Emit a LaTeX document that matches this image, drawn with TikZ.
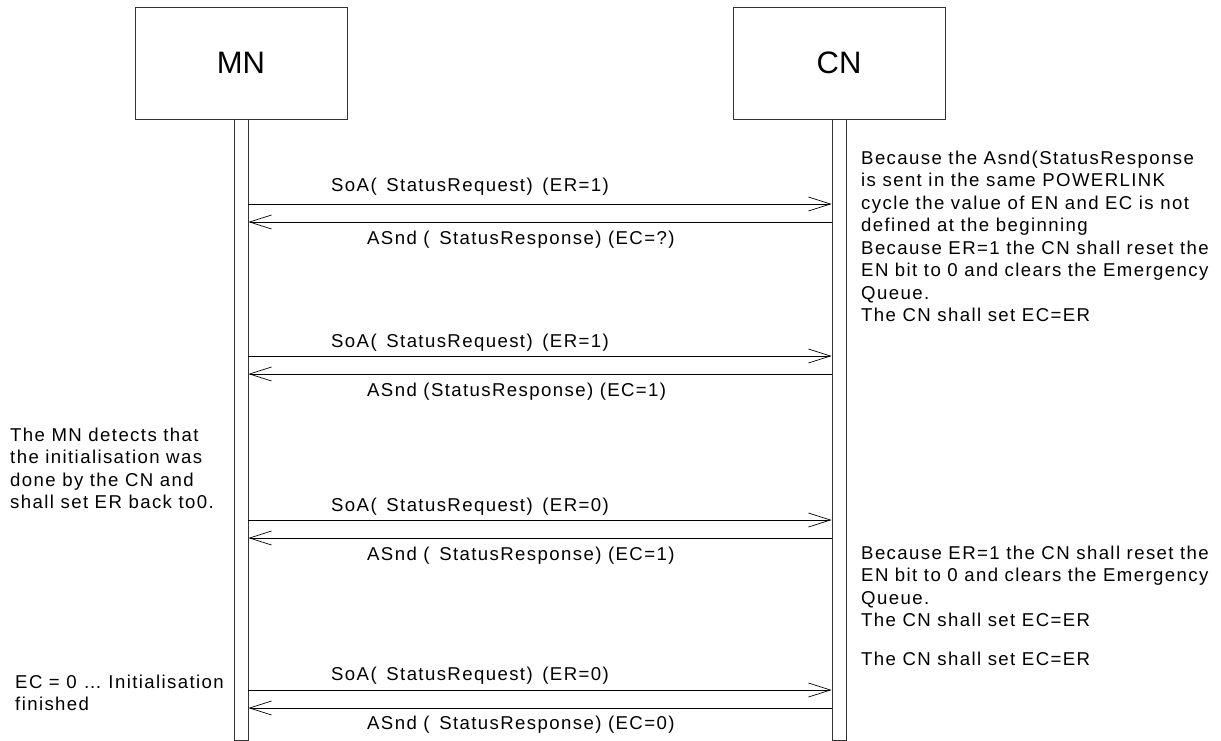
\documentclass[tikz,border=0pt]{standalone}
\usepackage{fontspec}
\setmainfont[LetterSpace=7.5]{Liberation Sans}
\newfontfamily\titlefont{Liberation Sans}
\usetikzlibrary{arrows.meta}
\begin{document}
\begin{tikzpicture}[x=1pt,y=-1pt,
  actor/.style={draw=black!80, line width=0.8pt, minimum width=212pt, minimum height=112pt,
    inner sep=0pt, font=\titlefont\fontsize{31}{36}\selectfont},
  lifeline/.style={draw=black!80, line width=0.8pt, minimum width=14pt, minimum height=621pt,
    inner sep=0pt, anchor=north},
  msg/.style={line width=0.7pt, -{Straight Barb[length=22pt, width=14pt, line width=0.7pt]}},
  lbl/.style={anchor=base west, inner sep=0pt, font=\fontsize{18.6}{22}\selectfont},
  note/.style={anchor=base west, inner sep=0pt, font=\fontsize{18.6}{22.5}\selectfont}]
\useasboundingbox (0,0) rectangle (1221,740);

% participants
\node[actor] (mn) at (241,63) {MN};
\node[actor] (cn) at (839,63) {CN};
\node[lifeline] (mnl) at (mn.south) {};
\node[lifeline] (cnl) at (cn.south) {};

% request / response pairs between the lifelines
\foreach \i/\ya/\yb in {1/204/222, 2/356/374, 3/520/538, 4/690/708} {
  \coordinate (mA\i) at (mnl.east |- 0,\ya);
  \coordinate (cA\i) at (cnl.west |- 0,\ya);
  \coordinate (mB\i) at (mnl.east |- 0,\yb);
  \coordinate (cB\i) at (cnl.west |- 0,\yb);
  \draw[msg] (mA\i) -- (cA\i);
  \draw[msg] (cB\i) -- (mB\i);
}

% message labels
\node[lbl] (q1) at (331,191) {SoA(\, StatusRequest)\, (ER=1)};
\node[lbl] (r1) at (367,244) {ASnd (\, StatusResponse) (EC=?)};
\node[lbl] (q2) at (331,347) {SoA(\, StatusRequest)\, (ER=1)};
\node[lbl] (r2) at (367,396) {ASnd (StatusResponse) (EC=1)};
\node[lbl] (q3) at (331,511) {SoA(\, StatusRequest)\, (ER=0)};
\node[lbl] (r3) at (367,560) {ASnd (\, StatusResponse) (EC=1)};
\node[lbl] (q4) at (331,680) {SoA(\, StatusRequest)\, (ER=0)};
\node[lbl] (r4) at (367,729) {ASnd (\, StatusResponse) (EC=0)};

% notes beside the CN
\node[note] (n1) at (861,164) {\begin{tabular}[t]{@{}l@{}}Because the Asnd(StatusResponse\\is sent in the same POWERLINK\\cycle the value of EN and EC is not\\defined at the beginning\end{tabular}};
\node[note] (n2) at (861,254) {\begin{tabular}[t]{@{}l@{}}Because ER=1 the CN shall reset the\\EN bit to 0 and clears the Emergency\\Queue.\\The CN shall set EC=ER\end{tabular}};
\node[note] (n3) at (861,559) {\begin{tabular}[t]{@{}l@{}}Because ER=1 the CN shall reset the\\EN bit to 0 and clears the Emergency\\Queue.\\The CN shall set EC=ER\end{tabular}};
\node[note] (n4) at (861,665) {The CN shall set EC=ER};

% notes beside the MN
\node[note] (m1) at (10,441) {\begin{tabular}[t]{@{}l@{}}The MN detects that\\the initialisation was\\done by the CN and\\shall set ER back to0.\end{tabular}};
\node[note] (m2) at (15,688) {\begin{tabular}[t]{@{}l@{}}EC = 0 … Initialisation\\finished\end{tabular}};
\end{tikzpicture}
\end{document}
